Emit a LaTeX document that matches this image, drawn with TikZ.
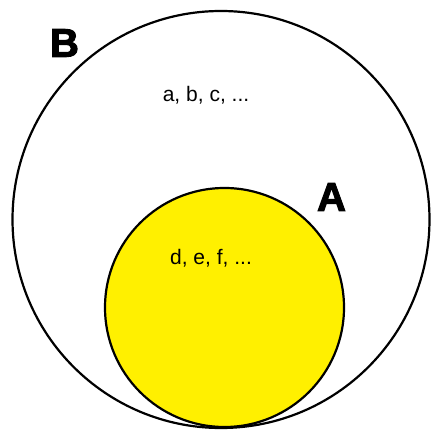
\documentclass[tikz,border=0pt]{standalone}
\usepackage{fontspec}
\setmainfont{Liberation Sans}
\newfontfamily\heavyfont[FakeBold=2.5]{Liberation Sans Bold}
\begin{document}
\begin{tikzpicture}[x=1pt,y=-1pt,
  setline/.style={draw=black,line width=2.2pt},
  lbl/.style={font=\fontsize{21}{24}\selectfont,inner sep=0pt},
  biglbl/.style={font=\heavyfont\fontsize{40}{44}\selectfont,inner sep=0pt}]
\useasboundingbox (0,0) rectangle (431,430);
\fill[white] (0,0) rectangle (431,430);
\draw[setline] (221,219.5) circle (208.5);
\draw[setline,fill={rgb,255:red,255;green,240;blue,0}] (224.5,307.5) circle (119.5);
\node[biglbl] (B) at (64.5,43) {B};
\node[biglbl] (A) at (331.5,197) {A};
\node[lbl] (abc) at (206,95) {a, b, c, ...};
\node[lbl] (def) at (211,258) {d, e, f, ...};
\end{tikzpicture}
\end{document}
